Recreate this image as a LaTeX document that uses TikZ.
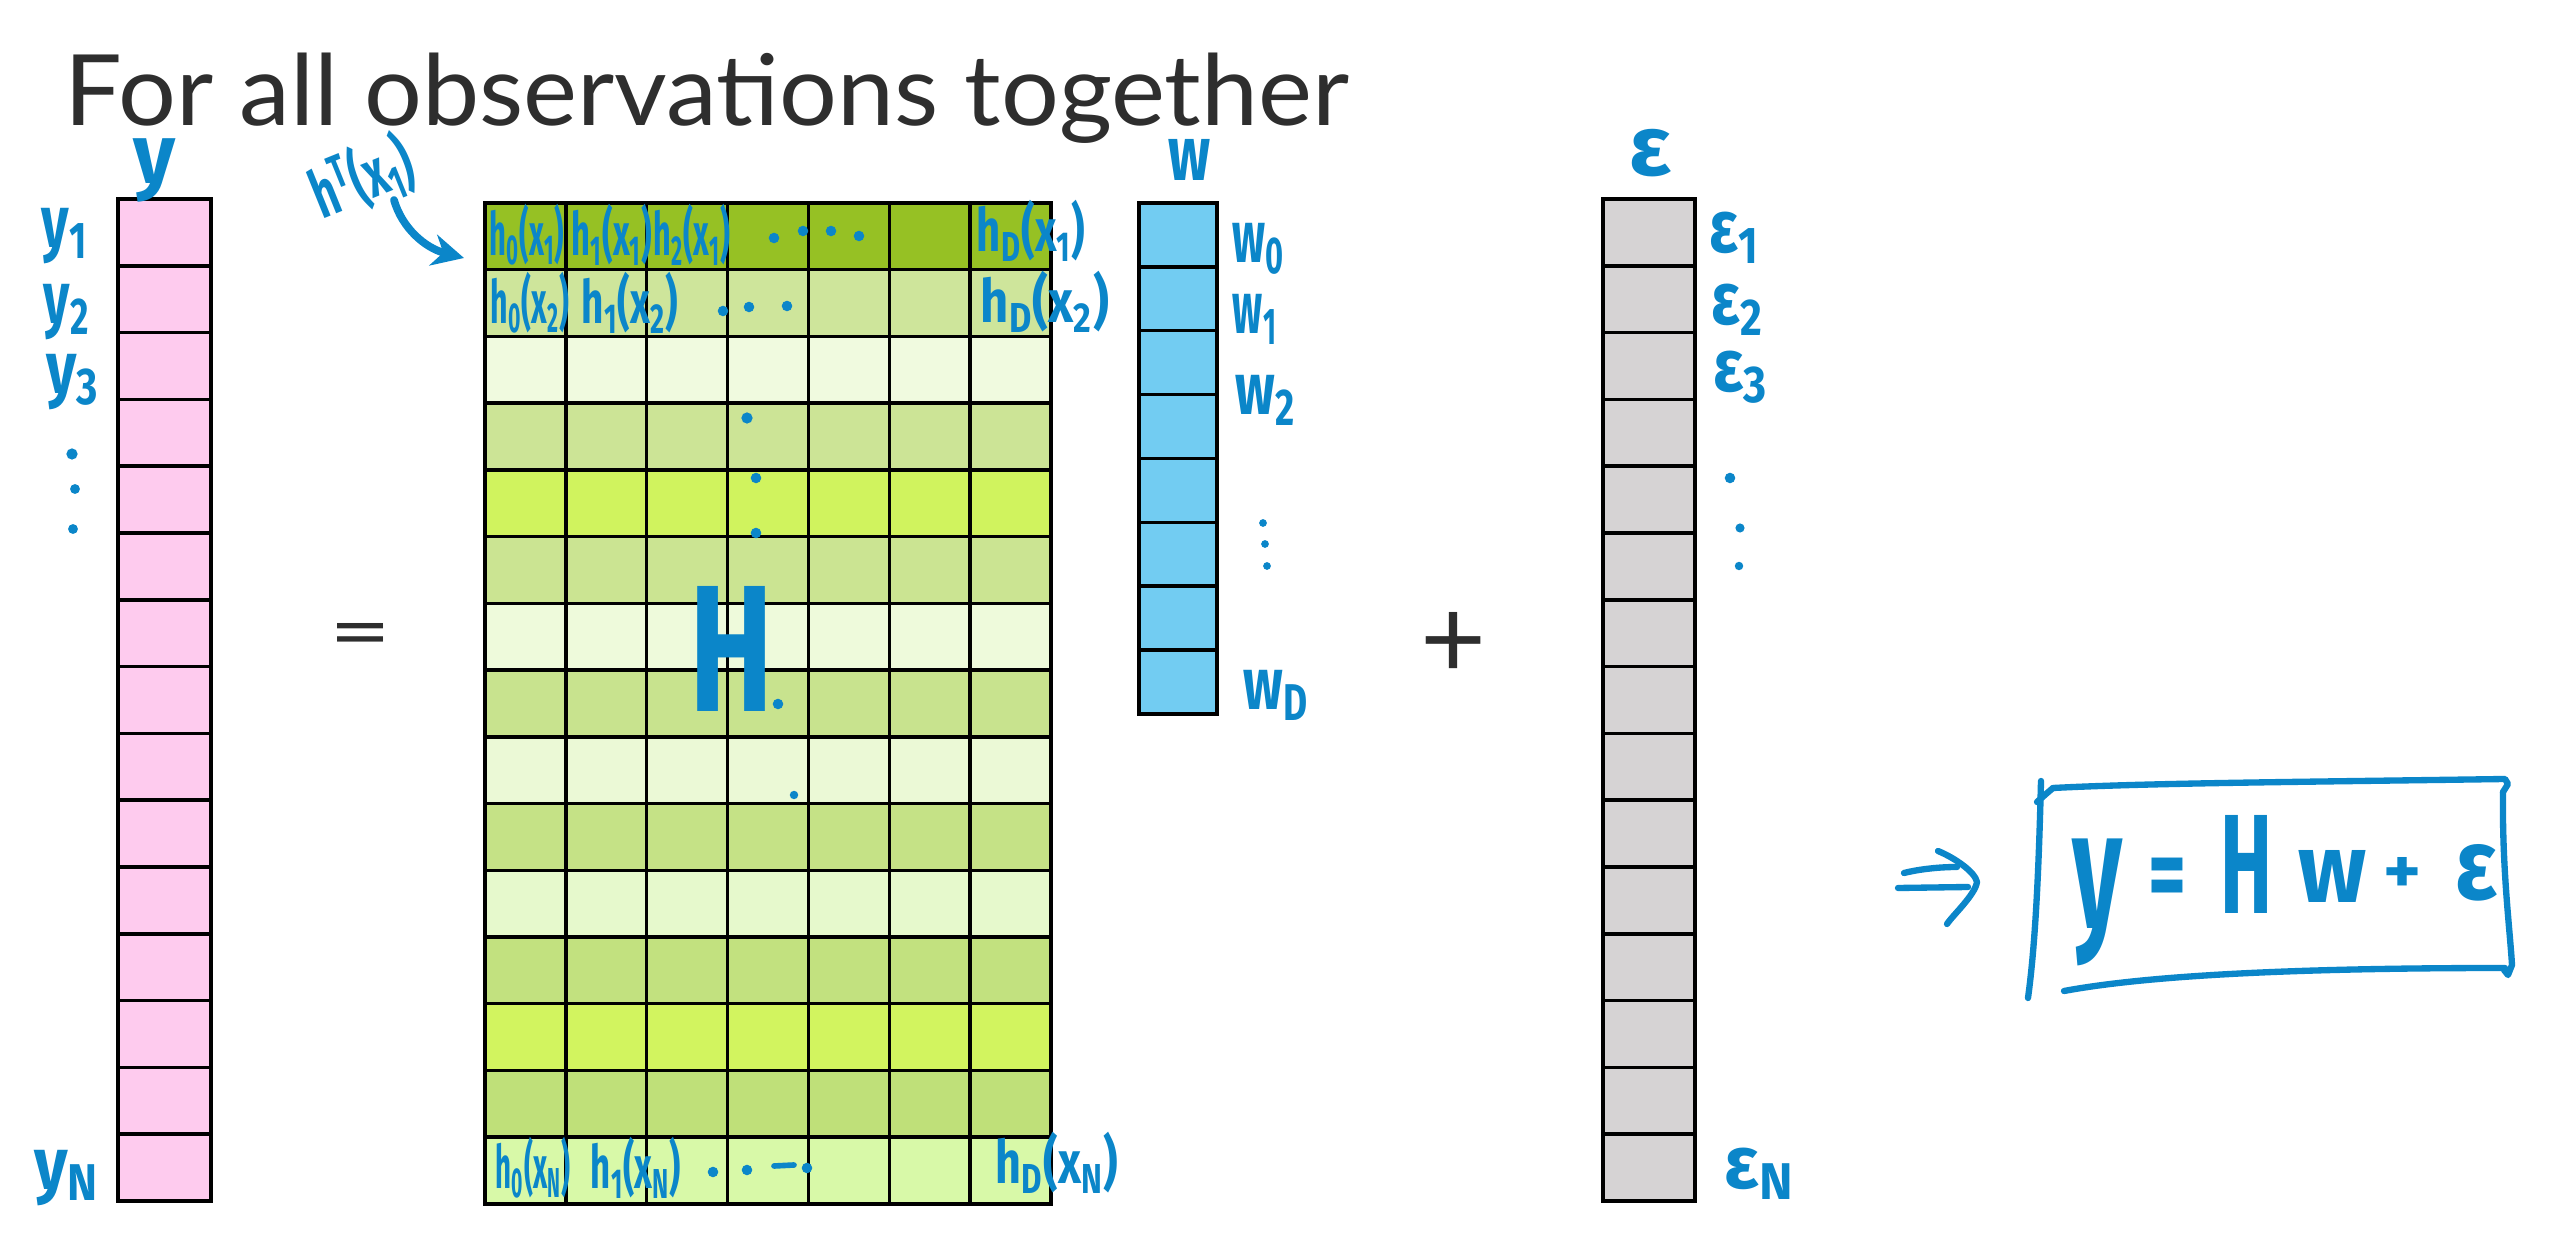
\documentclass[tikz,border=0pt]{standalone}
\usepackage{fontspec}
\usepackage{graphicx}
\usetikzlibrary{arrows.meta}
\newfontfamily\titlefont{Lato}
\newfontfamily\handfont{Fira Sans}
\definecolor{pen}{HTML}{0B86C9}
\definecolor{ink}{HTML}{2E2E2E}
\definecolor{pinkc}{HTML}{FECBEE}
\definecolor{bluec}{HTML}{72CCF2}
\definecolor{grayc}{HTML}{D6D3D4}
\definecolor{r1}{HTML}{96C124}
\definecolor{r2}{HTML}{CEE59B}
\definecolor{r3}{HTML}{F0FADF}
\definecolor{r4}{HTML}{CCE496}
\definecolor{r5}{HTML}{D0F35E}
\definecolor{r6}{HTML}{CBE492}
\definecolor{r7}{HTML}{EEFADB}
\definecolor{r8}{HTML}{C8E38E}
\definecolor{r9}{HTML}{EBF9D6}
\definecolor{r10}{HTML}{C5E286}
\definecolor{r11}{HTML}{E6F9CC}
\definecolor{r12}{HTML}{C2E17F}
\definecolor{r13}{HTML}{D2F45F}
\definecolor{r14}{HTML}{BFE079}
\definecolor{r15}{HTML}{D8F9A8}
\newcommand{\hw}[2]{\resizebox{#1cm}{\height}{#2}}
\newcommand{\sbs}[1]{\textsubscript{#1}}
\begin{document}
\begin{tikzpicture}[x=0.01cm,y=-0.01cm,
  cell/.style={draw=black,line width=1pt,inner sep=0pt,outer sep=0pt},
  hand/.style={text=pen,inner sep=0pt,font=\handfont\bfseries\fontsize{21}{21}\selectfont},
  rowtxt/.style={text=pen,inner sep=0pt,font=\handfont\bfseries\fontsize{17}{17}\selectfont},
  sym/.style={text=ink,inner sep=0pt,font=\titlefont\fontsize{30}{30}\selectfont},
  stroke/.style={draw=pen,line width=1.8pt,line cap=round,line join=round},
  dotp/.style={fill=pen}]
\useasboundingbox (0,0) rectangle (2562,1234);
\fill[white] (0,0) rectangle (2562,1234);

% title
\node[anchor=base west,inner sep=0pt,text=ink] (title) at (64,126)
  {\resizebox{12.84cm}{\height}{\titlefont\fontsize{28}{30}\selectfont For all observations together}};

% y vector
\foreach \i in {1,...,15}
  \node[cell,fill=pinkc,minimum width=0.93cm,minimum height=0.668cm] (y\i) at (164.5,{199+(\i-0.5)*66.8}) {};
% H matrix
\foreach \i in {1,...,15}
  \foreach \j in {1,...,7}
    \node[cell,fill=r\i,minimum width=0.8086cm,minimum height=0.6673cm] (H\i-\j) at ({485+(\j-0.5)*80.86},{203+(\i-0.5)*66.73}) {};
% w vector
\foreach \i in {1,...,8}
  \node[cell,fill=bluec,minimum width=0.78cm,minimum height=0.63875cm] (w\i) at (1178,{203+(\i-0.5)*63.875}) {};
% epsilon vector
\foreach \i in {1,...,15}
  \node[cell,fill=grayc,minimum width=0.92cm,minimum height=0.668cm] (e\i) at (1649,{199+(\i-0.5)*66.8}) {};

% symbols
\node[sym] (eq) at (361,641) {\resizebox{0.62cm}{0.36cm}{=}};
\node[sym] (plus) at (1454,645) {\resizebox{0.66cm}{0.66cm}{+}};

% y labels
\node[text=pen,inner sep=0pt,font=\handfont\bfseries\fontsize{24}{24}\selectfont] (ylab) at (155,170) {\hw{0.42}{y}};
\node[hand] (ly1) at (65,236) {\hw{0.46}{y\sbs{1}}};
\node[hand] (ly2) at (67,312) {\hw{0.46}{y\sbs{2}}};
\node[hand] (ly3) at (73,382) {\hw{0.53}{y\sbs{3}}};
\fill[dotp] (72,454) circle[radius=1.6pt] (75,489) circle[radius=1.4pt] (73,529) circle[radius=1.4pt];
\node[hand] (lyN) at (67,1178) {\hw{0.65}{y\sbs{N}}};

% w labels
\node[text=pen,inner sep=0pt,font=\handfont\bfseries\fontsize{22}{22}\selectfont] (wlab) at (1190,160) {\hw{0.42}{w}};
\node[hand] (lw0) at (1259,249) {\hw{0.52}{w\sbs{0}}};
\node[hand] (lw1) at (1255,319) {\hw{0.44}{w\sbs{1}}};
\node[hand] (lw2) at (1266,400) {\hw{0.6}{w\sbs{2}}};
\fill[dotp] (1263,523) circle[radius=1.1pt] (1265,544) circle[radius=1.1pt] (1267,566) circle[radius=1.1pt];
\node[hand] (lwD) at (1276,695) {\hw{0.65}{w\sbs{D}}};

% epsilon labels
\node[text=pen,inner sep=0pt,font=\handfont\bfseries\fontsize{24}{24}\selectfont] (elab) at (1650,153) {\hw{0.42}{ε}};
\node[hand] (le1) at (1735,238) {\hw{0.5}{ε\sbs{1}}};
\node[hand] (le2) at (1738,310) {\hw{0.52}{ε\sbs{2}}};
\node[hand] (le3) at (1741,377) {\hw{0.55}{ε\sbs{3}}};
\fill[dotp] (1730,478) circle[radius=1.5pt] (1740,528) circle[radius=1.3pt] (1739,566) circle[radius=1.2pt];
\node[hand] (leN) at (1760,1174) {\hw{0.7}{ε\sbs{N}}};

% row labels of H
\node[rowtxt] (t11) at (527,235) {\hw{0.74}{h\sbs{0}(x\sbs{1})}};
\node[rowtxt] (t12) at (612,235) {\hw{0.8}{h\sbs{1}(x\sbs{1})}};
\node[rowtxt] (t13) at (692,235) {\hw{0.76}{h\sbs{2}(x\sbs{1})}};
\fill[dotp] (774,238) circle[radius=1.5pt] (803,231) circle[radius=1.5pt] (831,231) circle[radius=1.5pt] (859,236) circle[radius=1.5pt];
\node[rowtxt] (t1D) at (1031,231) {\hw{1.08}{h\sbs{D}(x\sbs{1})}};
\node[rowtxt] (t21) at (530,303) {\hw{0.78}{h\sbs{0}(x\sbs{2})}};
\node[rowtxt] (t22) at (630,303) {\hw{0.96}{h\sbs{1}(x\sbs{2})}};
\fill[dotp] (723,311) circle[radius=1.5pt] (749,307) circle[radius=1.5pt] (787,306) circle[radius=1.5pt];
\node[rowtxt] (t2D) at (1045,302) {\hw{1.28}{h\sbs{D}(x\sbs{2})}};
\node[rowtxt] (tN1) at (533,1168) {\hw{0.74}{h\sbs{0}(x\sbs{N})}};
\node[rowtxt] (tN2) at (636,1168) {\hw{0.9}{h\sbs{1}(x\sbs{N})}};
\fill[dotp] (713,1172) circle[radius=1.5pt] (747,1170) circle[radius=1.5pt] (807,1168) circle[radius=1.5pt];
\draw[stroke,line width=1.6pt] (774,1166) -- (794,1165);
\node[rowtxt] (tND) at (1057,1163) {\hw{1.22}{h\sbs{D}(x\sbs{N})}};

% vertical dots and H
\fill[dotp] (747,418) circle[radius=1.6pt] (756,478) circle[radius=1.5pt] (756,533) circle[radius=1.5pt] (778,704) circle[radius=1.5pt] (794,795) circle[radius=1.2pt];
\node[text=pen,inner sep=0pt,font=\handfont\bfseries\fontsize{50}{50}\selectfont] (Hlab) at (732,649) {\resizebox{0.84cm}{1.25cm}{H}};

% h^T(x_1) label and arrow
\node[text=pen,inner sep=0pt,font=\handfont\bfseries\fontsize{19}{19}\selectfont,rotate=22] (hT) at (362,178) {\hw{1.05}{h\textsuperscript{T}(x\sbs{1})}};
\coordinate (hTs) at (394,200);
\coordinate (hTe) at (464,258);
\draw[stroke,line width=2.2pt,-{Stealth[length=9pt,width=9pt]}] (hTs) .. controls (402,228) and (425,248) .. (hTe);

% implies arrow
\draw[stroke] (1904,873) .. controls (1920,869) and (1940,867) .. (1957,867);
\draw[stroke] (1898,888) -- (1968,887);
\draw[stroke] (1938,851) .. controls (1955,858) and (1975,872) .. (1977,882) .. controls (1975,895) and (1953,915) .. (1947,924);

% boxed equation
\draw[stroke] (2041,781) .. controls (2039,860) and (2036,940) .. (2028,998);
\draw[stroke] (2037,802) -- (2046,794) -- (2053,788);
\draw[stroke] (2053,788) .. controls (2150,783) and (2300,782) .. (2505,779) -- (2508,784) -- (2503,792);
\draw[stroke] (2503,792) .. controls (2502,870) and (2510,930) .. (2512,965) -- (2508,975) -- (2504,970);
\draw[stroke] (2505,968) .. controls (2300,968) and (2150,975) .. (2064,991);
\node[text=pen,inner sep=0pt,font=\handfont\bfseries\fontsize{48}{48}\selectfont] (fy) at (2098,902) {\hw{0.5}{y}};
\node[text=pen,inner sep=0pt,font=\handfont\bfseries\fontsize{30}{30}\selectfont] (feq) at (2167,884) {\hw{0.38}{=}};
\node[text=pen,inner sep=0pt,font=\handfont\bfseries\fontsize{40}{40}\selectfont] (fH) at (2246,864) {\resizebox{0.52cm}{0.98cm}{H}};
\node[text=pen,inner sep=0pt,font=\handfont\bfseries\fontsize{30}{30}\selectfont] (fw) at (2333,876) {\resizebox{0.68cm}{0.52cm}{w}};
\node[text=pen,inner sep=0pt,font=\handfont\bfseries\fontsize{24}{24}\selectfont] (fp) at (2402,875) {\resizebox{0.38cm}{0.36cm}{+}};
\node[text=pen,inner sep=0pt,font=\handfont\bfseries\fontsize{30}{30}\selectfont] (fe) at (2476,873) {\resizebox{0.42cm}{0.55cm}{ε}};
\end{tikzpicture}
\end{document}
